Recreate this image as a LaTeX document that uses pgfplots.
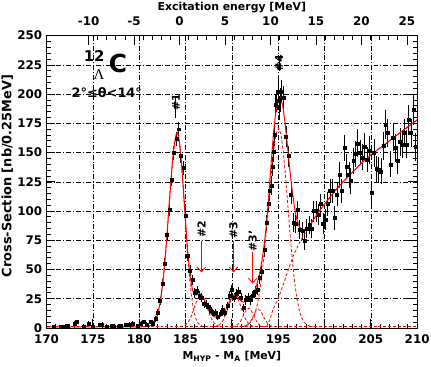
\documentclass[border=0pt]{standalone}
\usepackage{fontspec}
\setmainfont{DejaVu Sans}
\newfontfamily\serifgreek{Liberation Serif}
\usepackage{pgfplots}
\usepackage{pgfplotstable}
\pgfplotsset{compat=1.18}
\usetikzlibrary{arrows.meta}

\pgfplotstableread{
x y e
170.8 1 1.5
171.5 1 1.5
172.0 1.5 1.5
172.3 2 1.8
173.0 4 2
173.3 5 2
174.0 1 1.5
174.5 4 2
175.0 1 1.5
175.7 2.5 1.8
176.0 3 2
176.5 1.5 1.5
177.0 2 1.8
177.3 1.5 1.5
177.8 1.5 1.5
178.0 2 1.8
178.5 2.5 1.8
179.0 3 2
179.3 4 2
179.8 2 1.8
180.2 4 2
180.5 5 2
180.8 3 2
181.2 5 2
181.5 4 2
181.75 8 2.5
182.0 13 3
182.25 23 3.5
182.5 38 4
182.75 55 4.5
183.0 80 5
183.25 101 5
183.5 127 5.5
183.75 150 6
184.0 162 6
184.25 170 6
184.5 147 6
184.75 137 6
185.0 96 5.5
185.25 62 5
185.5 49 4.5
185.75 41 4.5
186.0 30 4
186.25 32 4
186.5 28 4
186.75 26 4
187.0 21 3.5
187.25 20 3.5
187.5 18 3.5
187.75 15 3
188.0 12 3
188.25 13 3
188.5 10 3
188.75 12 3
189.0 16 3.5
189.25 13 3
189.5 19 3.5
189.75 28 4
190.0 33 4
190.25 26 4
190.5 29 4
190.75 31 4
191.0 26 4
191.25 17 3.5
191.5 24 4
191.75 26 4
192.0 24 4
192.25 28 4
192.5 31 4.5
192.75 33 4.5
193.0 43 5
193.25 48 5
193.5 67 6
193.75 90 7
194.0 106 7
194.1 117 8
194.25 122 8
194.4 138 8
194.5 151 9
194.65 165 9
194.75 191 9
194.85 194 9
195.0 202 10
195.1 188 10
195.2 195 10
195.35 202 10
195.6 197 10
195.85 164 9
196.1 147 9
196.4 114 8
196.65 90 8
196.85 89 8
197.1 101 8
197.35 84 8
197.6 83 8
197.85 75 8
198.1 85 8
198.35 88 8
198.6 85 8
198.85 100 9
199.1 100 9
199.35 97 9
199.6 106 9
199.85 89 9
200.1 93 9
200.35 106 10
200.6 117 10
200.85 117 10
201.1 94 10
201.35 114 10
201.6 131 11
201.85 117 10
202.15 154 11
202.4 138 11
202.65 131 11
202.85 126 11
203.1 143 11
203.35 149 11
203.6 158 12
203.85 150 11
204.1 146 11
204.35 155 12
204.6 144 11
204.85 152 12
205.1 116 10
205.35 150 12
205.6 136 11
205.85 135 11
206.1 134 11
206.35 156 12
206.6 174 12
206.85 167 12
207.1 140 11
207.4 163 12
207.65 154 12
207.9 143 11
208.15 159 12
208.4 157 12
208.6 167 12
208.85 157 12
209.1 178 13
209.35 167 12
209.6 187 13
209.85 155 12
}\datatab

\begin{document}
\begin{tikzpicture}
\begin{axis}[
  at={(0,0)}, anchor=south west,
  scale only axis, width=374pt, height=295pt,
  xmin=170, xmax=210, ymin=0, ymax=250,
  xtick={170,175,...,210}, ytick={0,25,...,250},
  minor x tick num=4, minor y tick num=4,
  xtick pos=bottom,
  tick align=inside,
  major tick length=9pt, minor tick length=4.5pt,
  grid=major,
  major grid style={black, line width=0.5pt, dash pattern=on 5pt off 2pt on 1pt off 2pt},
  axis line style={line width=0.9pt},
  tick style={black, line width=0.8pt},
  /pgf/number format/assume math mode=true,
  ticklabel style={font=\bfseries\fontsize{12}{12}\selectfont},
  xticklabel style={yshift=-3pt},
  yticklabel style={xshift=-1pt},
  label style={font=\bfseries\fontsize{11}{12}\selectfont},
  xlabel={M\textsubscript{HYP} - M\textsubscript{A} [MeV]},
  ylabel={Cross-Section [nb/0.25MeV]},
  xlabel style={at={(axis description cs:0.5,-0.098)}, anchor=center},
  ylabel style={at={(axis description cs:-0.106,0.52)}, anchor=center, font=\bfseries\fontsize{13}{13}\selectfont},
  clip=true,
]
% data
\addplot[only marks, mark=square*, mark size=1.5pt, black,
  error bars/.cd, y dir=both, y explicit, error mark=none,
  error bar style={line width=1pt, black}]
  table[x=x, y=y, y error=e] {\datatab};

% baseline
\addplot[red, line width=0.8pt, dash pattern=on 3pt off 2pt] coordinates {(170,1) (210,1)};
% component #1
\addplot[red, line width=0.8pt, dash pattern=on 3pt off 2pt] coordinates {
(180.85,1.25)(181.1,1.6)(181.35,2.6)(181.6,4.5)(181.85,8.3)(182.1,15.1)(182.35,26.1)(182.6,42.3)(182.85,64.2)(183.1,90.5)(183.35,118.4)(183.6,143.3)(183.85,160.7)(184.1,167)(184.35,159)(184.6,137.6)(184.85,107.9)(185.1,77)(185.35,50)(185.6,29.6)(185.85,16.2)(186.1,8.3)(186.35,4.2)(186.6,2.3)(186.85,1.45)(187.1,1.15)};
% component #2
\addplot[red, line width=0.8pt, dash pattern=on 3pt off 2pt] coordinates {
(184.4,1.15)(184.65,1.46)(184.9,2.2)(185.15,3.7)(185.4,6.5)(185.65,10.7)(185.9,16.2)(186.15,21.9)(186.4,26.3)(186.65,28)(186.9,26.3)(187.15,21.9)(187.4,16.2)(187.65,10.7)(187.9,6.5)(188.15,3.7)(188.4,2.2)(188.65,1.46)(188.9,1.15)};
% component #3
\addplot[red, line width=0.8pt, dash pattern=on 3pt off 2pt] coordinates {
(188.05,1.15)(188.3,1.46)(188.55,2.2)(188.8,3.7)(189.05,6.5)(189.3,10.7)(189.55,16.2)(189.8,21.9)(190.05,26.3)(190.3,28)(190.55,26.3)(190.8,21.9)(191.05,16.2)(191.3,10.7)(191.55,6.5)(191.8,3.7)(192.05,2.2)(192.3,1.46)(192.55,1.15)};
% component #3' a
\addplot[red, line width=0.8pt, dash pattern=on 3pt off 2pt] coordinates {
(190.05,1.1)(190.3,1.39)(190.55,2.2)(190.8,4.1)(191.05,7.3)(191.3,11.6)(191.55,15.4)(191.8,17)(192.05,15.4)(192.3,11.6)(192.55,7.3)(192.8,4.1)(193.05,2.2)(193.3,1.39)(193.55,1.1)};
% component #3' b
\addplot[red, line width=0.8pt, dash pattern=on 3pt off 2pt] coordinates {
(191.1,1.09)(191.35,1.36)(191.6,2.1)(191.85,3.9)(192.1,6.9)(192.35,10.9)(192.6,14.5)(192.85,16)(193.1,14.5)(193.35,10.9)(193.6,6.9)(193.85,3.9)(194.1,2.1)(194.35,1.36)(194.6,1.09)};
% component #4
\addplot[red, line width=0.8pt, dash pattern=on 3pt off 2pt] coordinates {
(190.8,1.1)(191.05,1.22)(191.3,1.51)(191.55,2.07)(191.8,3.2)(192.05,5.1)(192.3,8.5)(192.55,13.9)(192.8,22)(193.05,33.6)(193.3,49)(193.55,68.1)(193.8,90.1)(194.05,113.5)(194.3,135.7)(194.55,154.3)(194.8,166.7)(195.05,171)(195.3,165.7)(195.55,151)(195.8,129.4)(196.05,104.1)(196.3,78.9)(196.55,56.2)(196.8,37.7)(197.05,24)(197.3,14.5)(197.55,8.5)(197.8,4.9)(198.05,2.9)(198.3,1.87)(198.55,1.37)(198.8,1.15)};
% rising background
\addplot[red, line width=0.8pt, dash pattern=on 3pt off 2pt] coordinates {
(193.75,1)(194.1,7)(194.45,16)(195,25)(195.5,36)(196.1,50)(196.6,61)(197.3,73)(197.8,80)(198,82)(199,95)(200,106)(201,116)(202,125)(203,133)(204,141)(205,148)(206,154)(207,160)(208,166)(209,172)(210,178)};
% total fit
\addplot[red, line width=1pt] coordinates {
(170,1)(180,1)(180.5,1.05)(181,1.44)(181.25,2.1)(181.5,3.56)(181.75,6.5)(182,11.9)(182.25,21.1)(182.5,35.2)(182.75,54.9)(183,79.7)(183.25,107.3)(183.5,133.9)(183.75,154.9)(184,166)(184.1,167)(184.25,164.2)(184.5,147.7)(184.75,121.1)(185,90.9)(185.25,63.8)(185.5,43.9)(185.75,32.6)(186,28.4)(186.25,28.4)(186.5,29.2)(186.75,28.4)(187,25)(187.25,20)(187.5,15)(187.75,12)(188,10)(188.25,9.2)(188.5,9.2)(188.75,10)(189,11.5)(189.25,14)(189.5,18)(189.75,22.5)(190,26.5)(190.25,28.2)(190.5,27.9)(190.75,25.6)(191,23.2)(191.25,22.1)(191.5,22.7)(191.75,24)(192,25.6)(192.25,27.9)(192.5,32.1)(192.75,38.5)(193,46.8)(193.25,57.6)(193.5,71.6)(193.75,89.5)(194,114.8)(194.25,142)(194.5,167)(194.75,184.7)(195,194.8)(195.25,197.1)(195.5,189.6)(195.75,174.9)(196,156)(196.25,136.1)(196.5,118.2)(196.75,103.7)(197,93.3)(197.25,87.2)(197.5,84.3)(197.75,83.7)(198,84.2)(198.25,86.3)(198.5,88.9)(198.75,91.9)(199,95)(200,106)(201,116)(202,125)(203,133)(204,141)(205,148)(206,154)(207,160)(208,166)(209,172)(210,178)};

% annotations
\node[font=\bfseries\fontsize{15}{15}\selectfont] at (axis cs:175.13,233) {12};
\node[font=\bfseries\fontsize{25}{25}\selectfont] at (axis cs:177.7,226.5) {C};
\node[font=\serifgreek\fontsize{15}{15}\selectfont] at (axis cs:175.67,216.5) {Λ};
\node[font=\bfseries\fontsize{13}{13}\selectfont] at (axis cs:176.5,201.7) {2°≤θ<14°};

\draw[black, line width=0.8pt] (axis cs:183.9,180) -- (axis cs:183.9,198);
\node[rotate=90, font=\bfseries\fontsize{11}{11}\selectfont] at (axis cs:183.95,193) {\#1};
\draw[black, line width=0.8pt] (axis cs:195.1,220) -- (axis cs:195.1,233);
\node[rotate=90, font=\bfseries\fontsize{11}{11}\selectfont] at (axis cs:195.1,226.3) {\#4};

\node[rotate=90, font=\bfseries\fontsize{11}{11}\selectfont] at (axis cs:186.72,84.7) {\#2};
\draw[red, line width=0.8pt, -{Straight Barb[length=5pt,width=9pt]}] (axis cs:186.72,74.6) -- (axis cs:186.72,47.5);
\node[rotate=90, font=\bfseries\fontsize{11}{11}\selectfont] at (axis cs:190.18,83.9) {\#3};
\draw[red, line width=0.8pt, -{Straight Barb[length=5pt,width=9pt]}] (axis cs:190.18,74.6) -- (axis cs:190.18,47.5);
\node[rotate=90, font=\bfseries\fontsize{11}{11}\selectfont] at (axis cs:192.25,74.5) {\#3'};
\draw[red, line width=0.8pt, -{Straight Barb[length=5pt,width=9pt]}] (axis cs:192.25,65) -- (axis cs:192.25,38);
\end{axis}

\begin{axis}[
  at={(0,0)}, anchor=south west,
  scale only axis, width=374pt, height=295pt,
  xmin=-14.62, xmax=26.12, ymin=0, ymax=1,
  hide y axis,
  xtick={-10,-5,...,25}, minor x tick num=4,
  xtick pos=top, xticklabel pos=top,
  tick align=inside,
  major tick length=9pt, minor tick length=4.5pt,
  axis line style={line width=0.9pt},
  tick style={black, line width=0.8pt},
  /pgf/number format/assume math mode=true,
  ticklabel style={font=\bfseries\fontsize{12}{12}\selectfont},
  xticklabel style={yshift=7pt},
  xlabel={Excitation energy [MeV]},
  label style={font=\bfseries\fontsize{11}{12}\selectfont},
  xlabel style={at={(axis description cs:0.5,1.097)}, anchor=center},
]
\addplot[draw=none] coordinates {(0,0.5)};
\end{axis}
\pgfresetboundingbox
\useasboundingbox (-47pt,-39pt) rectangle (388pt,331pt);
\end{tikzpicture}
\end{document}
